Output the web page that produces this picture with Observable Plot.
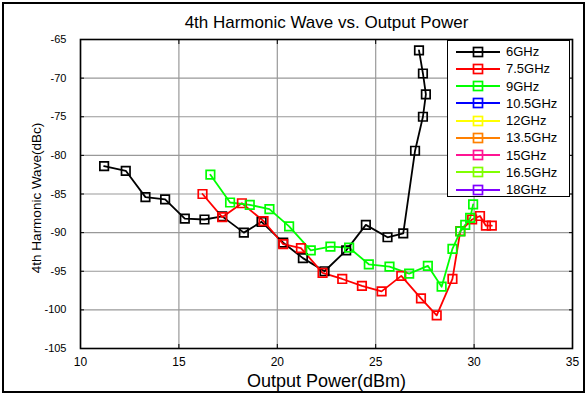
<!DOCTYPE html>
<html>
<head>
<meta charset="utf-8">
<script src="https://cdn.jsdelivr.net/npm/d3@7"></script>
<script src="https://cdn.jsdelivr.net/npm/@observablehq/plot@0.6"></script>
<style>
  html, body { margin: 0; padding: 0; background: #fff; }
  #wrap { position: relative; width: 587px; height: 395px; overflow: hidden; font-family: "Liberation Sans", Arial, sans-serif; }
  #border { position: absolute; left: 2px; top: 2px; width: 583px; height: 391px; box-sizing: border-box; border: 2px solid #000; pointer-events: none; }
  #legend { position: absolute; left: 447px; top: 40px; width: 123px; height: 157px; box-sizing: border-box; border: 1.5px solid #000; background: #fff; padding-top: 2px; }
  .row { height: 17.25px; display: flex; align-items: center; }
  .row svg { margin-left: 7px; }
  .row span { margin-left: 5px; font-size: 13px; color: #000; }
  #ylabel { position: absolute; left: 37px; top: 198px; width: 0; height: 0; }
  #ylabel span { position: absolute; left: 0; top: 0; transform: translate(-50%, -50%) rotate(-90deg); white-space: nowrap; font-size: 13.5px; line-height: 1; color: #000; }
</style>
</head>
<body>
<div id="wrap"><div id="border"></div></div>
<script>
// ---- data ----
const seriesNames = ["6GHz", "7.5GHz", "9GHz", "10.5GHz", "12GHz", "13.5GHz", "15GHz", "16.5GHz", "18GHz"];
const seriesColors = ["#000000", "#ff0000", "#00ff00", "#0000ff", "#ffff00", "#ff8000", "#ff1493", "#80ff00", "#8000ff"];

const p6GHz   = [11.2, 12.3, 13.3, 14.3, 15.3, 16.3, 17.2, 18.3, 19.2, 20.3, 21.3, 22.4, 23.5, 24.5, 25.6, 26.4, 27.0, 27.4, 27.55, 27.4, 27.2];
const h6GHz   = [-81.4, -82.0, -85.4, -85.7, -88.2, -88.3, -87.9, -90.0, -88.6, -91.3, -93.3, -95.0, -92.3, -89.0, -90.6, -90.1, -79.4, -75.0, -72.1, -69.4, -66.4];

const p75GHz  = [16.2, 17.2, 18.2, 19.3, 20.3, 21.2, 22.3, 23.3, 24.3, 25.3, 26.3, 27.3, 28.1, 28.9, 29.3, 29.9, 30.3, 30.6, 30.9];
const h75GHz  = [-85.0, -88.0, -86.2, -88.5, -91.5, -92.0, -95.2, -96.0, -96.9, -97.6, -95.6, -98.5, -100.7, -96.0, -89.8, -88.3, -87.85, -89.1, -89.1];

const p9GHz   = [16.6, 17.6, 18.6, 19.6, 20.6, 21.7, 22.7, 23.65, 24.65, 25.7, 26.7, 27.65, 28.35, 28.9, 29.3, 29.55, 29.8, 29.95];
const h9GHz   = [-82.5, -86.1, -86.4, -86.95, -89.2, -92.3, -91.8, -91.95, -94.1, -94.4, -95.3, -94.3, -97.0, -92.1, -89.85, -89.0, -88.1, -86.35];

const xTicks = [10, 15, 20, 25, 30, 35];
const yTicks = [-105, -100, -95, -90, -85, -80, -75, -70, -65];

const titleText = "4th Harmonic Wave vs. Output Power";
const xLabel = "Output Power(dBm)";
const yLabel = "4th Harmonic Wave(dBc)";

// ---- build table ----
const data = [];
[[seriesNames[0], p6GHz, h6GHz], [seriesNames[1], p75GHz, h75GHz], [seriesNames[2], p9GHz, h9GHz]]
  .forEach(([s, xs, ys]) => xs.forEach((x, i) => data.push({series: s, x, y: ys[i]})));

const font = '"Liberation Sans", Arial, sans-serif';
const fmt = d => String(d);

const chart = Plot.plot({
  width: 587,
  height: 395,
  marginLeft: 80,
  marginRight: 15,
  marginTop: 39,
  marginBottom: 47,
  style: {background: "transparent", fontFamily: font, color: "#000"},
  x: {domain: [10, 35], ticks: xTicks},
  y: {domain: [-105, -65], ticks: yTicks},
  color: {domain: seriesNames, range: seriesColors},
  marks: [
    Plot.gridX(xTicks, {stroke: "#999", strokeOpacity: 1, strokeWidth: 1.2}),
    Plot.gridY(yTicks, {stroke: "#999", strokeOpacity: 1, strokeWidth: 1.2}),
    Plot.axisX(xTicks, {anchor: "bottom", tickSize: -4, tickPadding: 13, fontSize: 12, tickFormat: fmt, label: null}),
    Plot.axisX(xTicks, {anchor: "top", tickSize: -4, tickFormat: () => "", label: null}),
    Plot.axisY(yTicks, {anchor: "left", tickSize: -4, tickPadding: 18, fontSize: 11, tickFormat: fmt, label: null}),
    Plot.axisY(yTicks, {anchor: "right", tickSize: -4, tickFormat: () => "", label: null}),
    Plot.line(data, {x: "x", y: "y", z: "series", stroke: "series", strokeWidth: 1.8}),
    Plot.dot(data, {x: "x", y: "y", stroke: "series", symbol: "square", r: 4.8, strokeWidth: 1.7, fill: "none"}),
    Plot.frame({stroke: "#000", strokeWidth: 1.6}),
    Plot.text([titleText], {frameAnchor: "top", dy: -17, text: d => d, fontSize: 17, lineAnchor: "middle"}),
    Plot.text([xLabel], {frameAnchor: "bottom", dy: 33, text: d => d, fontSize: 18, lineAnchor: "middle"})
  ]
});

const wrap = document.getElementById("wrap");
chart.style.position = "absolute";
chart.style.left = "0";
chart.style.top = "0";
wrap.insertBefore(chart, wrap.firstChild);

// ---- y axis label ----
const yl = document.createElement("div");
yl.id = "ylabel";
const ys = document.createElement("span");
ys.textContent = yLabel;
yl.appendChild(ys);
wrap.appendChild(yl);

// ---- legend ----
const legend = document.createElement("div");
legend.id = "legend";
seriesNames.forEach((name, i) => {
  const row = document.createElement("div");
  row.className = "row";
  const c = seriesColors[i];
  row.innerHTML = `<svg width="46" height="12"><line x1="1" y1="6" x2="45" y2="6" stroke="${c}" stroke-width="1.8"/><rect x="18.5" y="1.5" width="9" height="9" fill="none" stroke="${c}" stroke-width="1.7"/></svg><span>${name}</span>`;
  legend.appendChild(row);
});
wrap.appendChild(legend);
</script>
</body>
</html>
